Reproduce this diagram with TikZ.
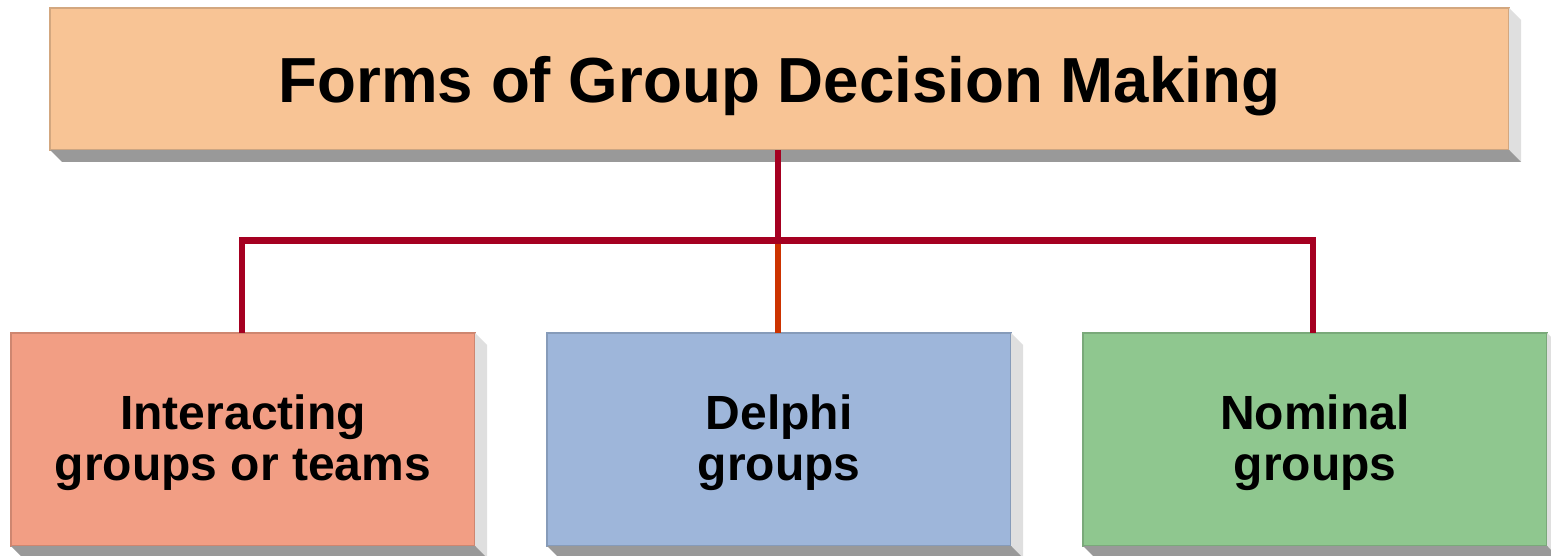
\documentclass[tikz,border=0pt]{standalone}
\usepackage{fontspec}
\setmainfont{Liberation Sans}
\begin{document}
\begin{tikzpicture}[x=1pt,y=-1pt,
  every node/.style={inner sep=0pt, outer sep=0pt},
  block/.style={draw=#1!85!black, fill=#1, line width=1.2pt, align=center, text depth=4pt,
    font=\bfseries\fontsize{48}{51}\selectfont, minimum width=464pt, minimum height=213pt},
  titleblock/.style={block=#1, minimum width=1459pt, minimum height=142pt,
    text depth=0pt, font=\bfseries\fontsize{63.7}{68}\selectfont},
  link/.style={line width=6.6pt, draw=linkRed},
  midlink/.style={line width=6.6pt, draw=linkOrange}
]
\definecolor{peach}{RGB}{248,196,149}
\definecolor{salmon}{RGB}{242,158,132}
\definecolor{skyblue}{RGB}{158,182,218}
\definecolor{mint}{RGB}{143,199,143}
\definecolor{faceLight}{RGB}{223,223,223}
\definecolor{faceDark}{RGB}{153,153,153}
\definecolor{linkRed}{RGB}{165,0,33}
\definecolor{linkOrange}{RGB}{204,51,0}

\useasboundingbox (0,0) rectangle (1551,556);
\clip (0,0) rectangle (1551,556);

% extruded side and bottom faces for a box
\newcommand{\extrude}[1]{%
  \fill[faceLight] (#1.north east) -- ++(12,12) -- ([shift={(12,12)}]#1.south east) -- (#1.south east) -- cycle;
  \fill[faceDark] (#1.south west) -- (#1.south east) -- ++(12,12) -- ([shift={(12,12)}]#1.south west) -- cycle;
}

\node[titleblock=peach] (top) at (779.5,79) {Forms of Group Decision Making};
\node[block=salmon] (inter) at (243,439.5) {Interacting\\groups or teams};
\node[block=skyblue] (delphi) at (779,439.5) {Delphi\\groups};
\node[block=mint] (nominal) at (1315,439.5) {Nominal\\groups};

\extrude{top}
\extrude{inter}
\extrude{delphi}
\extrude{nominal}

\coordinate (hub) at (778,240.5);

% connectors
\draw[midlink] (hub) -- (hub |- delphi.north);
\draw[link] (hub |- top.south) -- (hub);
\draw[link, line join=miter] ([xshift=-1pt]inter.north) |- (hub) -| ([xshift=-2pt]nominal.north);
\end{tikzpicture}
\end{document}
